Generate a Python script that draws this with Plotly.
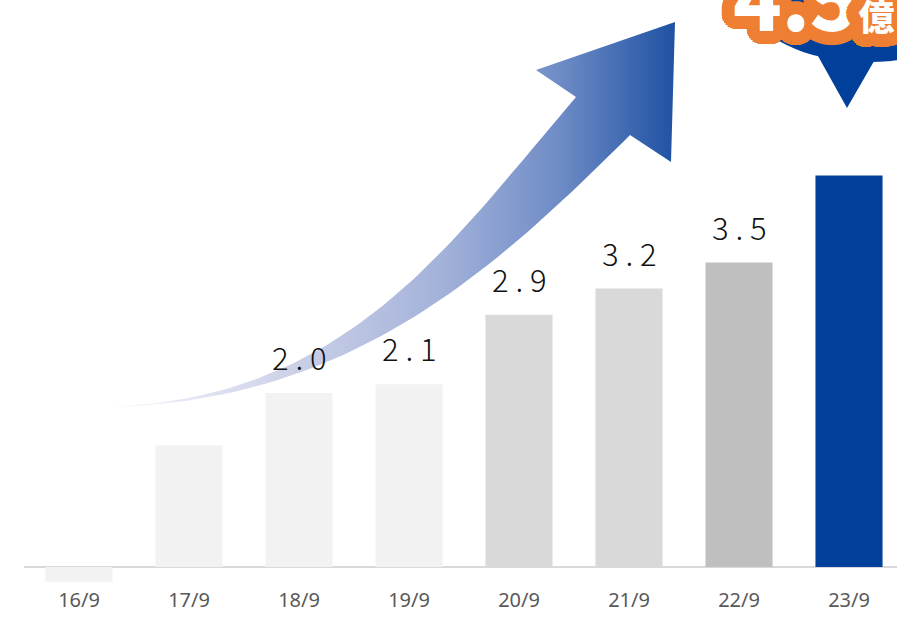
import numpy as np
import plotly.graph_objects as go

# ---- data -------------------------------------------------------------
categories = ["16/9", "17/9", "18/9", "19/9", "20/9", "21/9", "22/9", "23/9"]
values = [-0.17, 1.4, 2.0, 2.1, 2.9, 3.2, 3.5, 4.5]
labelled = [2, 3, 4, 5, 6]          # bars that carry a value label
highlight = 7                        # bar called out with the bubble
unit = "億"

# ---- styles -----------------------------------------------------------
bar_colors = ["#f2f2f2", "#f2f2f2", "#f2f2f2", "#f2f2f2",
              "#d9d9d9", "#d9d9d9", "#bfbfbf", "#00409a"]
ORANGE = "#ee7f33"
NAVY = "#00409a"

W, H = 897, 620
PLOT_LEFT = 24          # px
PLOT_BOTTOM = 586       # px
BASE_Y = 567            # px of value 0
PX_PER_UNIT = 87
SLOT = 110              # px per category

x_range = [-0.5, -0.5 + (W - PLOT_LEFT) / SLOT]
y_max = BASE_Y / PX_PER_UNIT
y_min = -(PLOT_BOTTOM - BASE_Y) / PX_PER_UNIT

fig = go.Figure()

fig.add_trace(go.Bar(
    x=list(range(len(categories))), y=values,
    marker=dict(color=bar_colors, line=dict(width=0)),
    width=0.61, hoverinfo="skip", showlegend=False,
    xaxis="x", yaxis="y",
))


# ---- curved rising arrow (drawn in page pixels on a second subplot) ---
def bezier(p0, p1, p2, p3, n=60):
    t = np.linspace(0, 1, n)[:, None]
    p0, p1, p2, p3 = (np.asarray(p, float) for p in (p0, p1, p2, p3))
    return ((1 - t) ** 3) * p0 + 3 * ((1 - t) ** 2) * t * p1 \
        + 3 * (1 - t) * t * t * p2 + (t ** 3) * p3


outer = bezier((92, 407), (342, 406), (446, 249), (576, 97))
head = np.array([(536, 70), (675, 22), (671, 162)], float)
inner = bezier((630, 135), (489, 276), (342, 408), (92, 407))

pts = np.vstack([outer, head, inner])

fig.add_trace(go.Scatter(
    x=pts[:, 0], y=pts[:, 1], mode="lines", fill="toself",
    line=dict(width=0, color="rgba(0,0,0,0)"),
    fillgradient=dict(
        type="horizontal", start=92, stop=675,
        colorscale=[[0.0, "#f5f6fb"], [0.12, "#eaecf6"],
                    [0.35, "#cbd0e7"], [0.6, "#a3b2da"],
                    [0.8, "#6f8cc6"], [1.0, "#1f52a3"]],
    ),
    hoverinfo="skip", showlegend=False, xaxis="x2", yaxis="y2",
))

# ---- value labels -------------------------------------------------------
annotations = []
for k in labelled:
    txt = " ".join(f"{values[k]:.1f}")
    annotations.append(dict(
        x=k, y=values[k], xref="x", yref="y", text=txt, showarrow=False,
        xanchor="center", yanchor="bottom", yshift=12,
        font=dict(family="Noto Sans CJK JP", size=31, color="#111111", weight=300),
    ))

# ---- call-out bubble for the highlighted bar ----------------------------
shadow = ", ".join(
    f"{r * np.cos(a):.1f}px {r * np.sin(a):.1f}px 0 {ORANGE}"
    for r in (3, 6, 9, 11, 13) for a in np.linspace(0, 2 * np.pi, 32, endpoint=False)
)
annotations.append(dict(
    x=731, y=56, xref="x2", yref="y2", showarrow=False,
    xanchor="left", yanchor="bottom",
    text=f"{values[highlight]:.1f}<span style='font-size:36px'>{unit}</span>",
    font=dict(family="Noto Sans CJK JP", size=80, color="white", weight=900,
              shadow=shadow),
))

shapes = [
    dict(type="circle", xref="x2", yref="y2", x0=752, x1=985, y0=-55, y1=62,
         fillcolor=NAVY, line=dict(width=0), layer="above"),
    dict(type="path", xref="x2", yref="y2",
         path="M 818 56 L 877 56 L 847 108 Z",
         fillcolor=NAVY, line=dict(width=0), layer="above"),
]

fig.update_layout(
    width=W, height=H,
    margin=dict(l=0, r=0, t=0, b=0),
    paper_bgcolor="white", plot_bgcolor="rgba(0,0,0,0)",
    bargap=0.39,
    xaxis=dict(
        domain=[PLOT_LEFT / W, 1], range=x_range,
        tickmode="array", tickvals=list(range(len(categories))),
        ticktext=categories, ticks="", showgrid=False, zeroline=False,
        showline=False, fixedrange=True,
        tickfont=dict(family="Noto Sans", size=20, color="#595959"),
    ),
    yaxis=dict(
        domain=[1 - PLOT_BOTTOM / H, 1], range=[y_min, y_max],
        showgrid=False, showticklabels=False, ticks="",
        zeroline=True, zerolinecolor="#d9d9d9", zerolinewidth=2,
        fixedrange=True,
    ),
    xaxis2=dict(domain=[0, 1], range=[0, W], visible=False, fixedrange=True,
                anchor="y2"),
    yaxis2=dict(domain=[0, 1], range=[H, 0], visible=False, fixedrange=True,
                anchor="x2"),
    annotations=annotations,
    shapes=shapes,
)

fig.write_html("out.html")
